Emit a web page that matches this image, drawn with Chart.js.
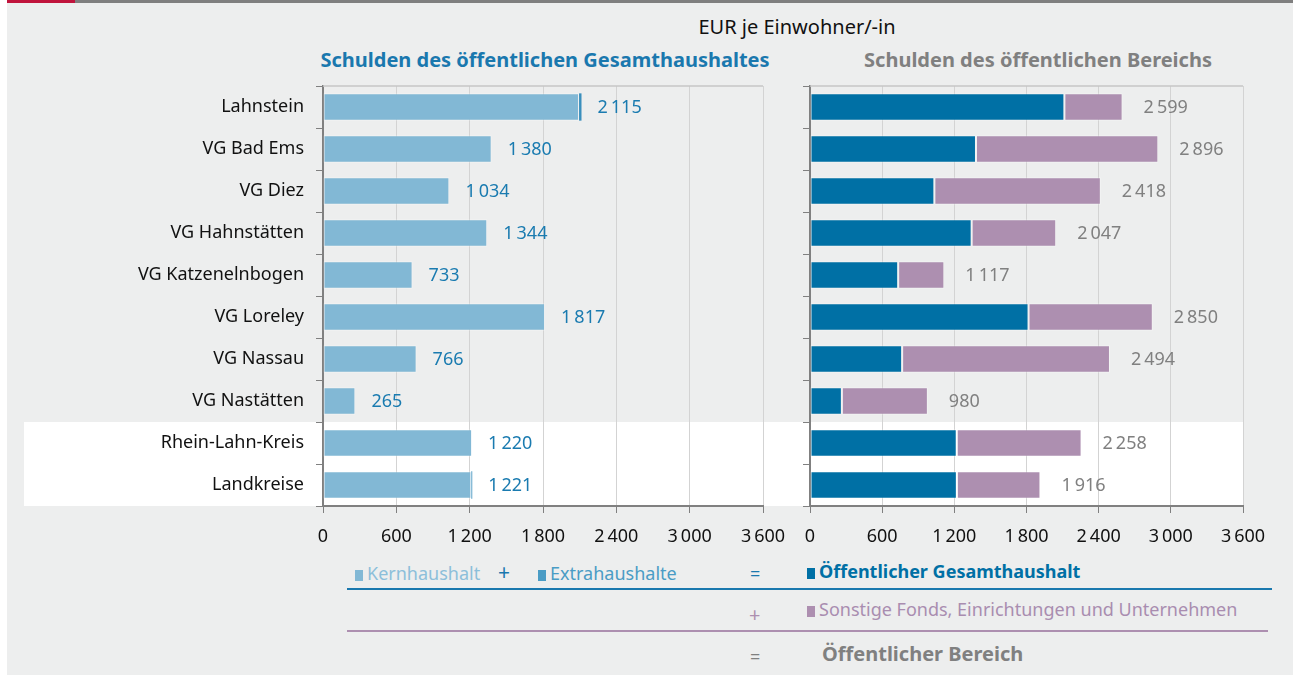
<!DOCTYPE html>
<html lang="de">
<head>
<meta charset="utf-8">
<title>Schulden je Einwohner</title>
<script src="https://cdn.jsdelivr.net/npm/chart.js@4.4.0/dist/chart.umd.min.js"></script>
<style>
  html, body { margin: 0; padding: 0; background: #fff; }
  body { width: 1293px; height: 675px; position: relative; overflow: hidden; font-family: 'Noto Sans', sans-serif; }
  #page { position: absolute; left: 7px; top: 0; right: 0; bottom: 0; background: #edeeee; }
  #topline { position: absolute; left: 7px; top: 0; right: 0; height: 3px; background: #7f7f7f; }
  #topline span { position: absolute; left: 0; top: 0; width: 68px; height: 3px; background: #c0143c; }
  canvas { position: absolute; }
  .txt { position: absolute; white-space: nowrap; line-height: 1; }
  .center { transform: translateX(-50%); }
  .sq { display: inline-block; width: 8px; height: 11px; margin-right: 4px; vertical-align: -1px; }
  .rule { position: absolute; height: 2px; }
</style>
</head>
<body>
<div id="page"></div>
<div id="topline"><span></span></div>

<div class="txt center" style="left:797px; top:17px; font-size:20px; color:#111;">EUR je Einwohner/-in</div>
<div class="txt center" style="left:545px; top:50px; font-size:20px; font-weight:bold; color:#1a78ae;">Schulden des öffentlichen Gesamthaushaltes</div>
<div class="txt center" style="left:1038px; top:50px; font-size:20px; font-weight:bold; color:#808080;">Schulden des öffentlichen Bereichs</div>

<canvas id="leftChart" width="790" height="480" style="left:0; top:76px;"></canvas>
<canvas id="rightChart" width="503" height="480" style="left:790px; top:76px;"></canvas>

<!-- legend -->
<div class="txt" style="left:355px; top:564px; font-size:18px; color:#8cbfda;"><span class="sq" style="background:#82b8d5"></span>Kernhaushalt</div>
<div class="txt" style="left:498px; top:562px; font-size:21px; color:#1a78ae;">+</div>
<div class="txt" style="left:538px; top:564px; font-size:18px; color:#4a9cc5;"><span class="sq" style="background:#4a9cc5"></span>Extrahaushalte</div>
<div class="txt" style="left:750px; top:564px; font-size:18px; color:#1a78ae;">=</div>
<div class="txt" style="left:807px; top:562px; font-size:18px; font-weight:bold; color:#0070a5;"><span class="sq" style="background:#0070a5"></span>Öffentlicher Gesamthaushalt</div>
<div class="rule" style="left:347px; top:588px; width:925px; background:#1a78ae;"></div>
<div class="txt" style="left:749px; top:605px; font-size:20px; color:#ad8fb0;">+</div>
<div class="txt" style="left:807px; top:600px; font-size:18px; color:#a98db0;"><span class="sq" style="background:#ad8fb0"></span>Sonstige Fonds, Einrichtungen und Unternehmen</div>
<div class="rule" style="left:347px; top:630px; width:921px; background:#ad8fb0;"></div>
<div class="txt" style="left:750px; top:647px; font-size:18px; color:#808080;">=</div>
<div class="txt" style="left:822px; top:644px; font-size:20px; font-weight:bold; color:#808080;">Öffentlicher Bereich</div>

<script>
// EUR je Einwohner/-in
const regionen = ['Lahnstein', 'VG Bad Ems', 'VG Diez', 'VG Hahnstätten', 'VG Katzenelnbogen',
  'VG Loreley', 'VG Nassau', 'VG Nastätten', 'Rhein-Lahn-Kreis', 'Landkreise'];
const kernhaushalt = [2095, 1380, 1034, 1344, 733, 1817, 766, 265, 1220, 1214];
const extrahaushalte = [20, 0, 0, 0, 0, 0, 0, 0, 0, 7];
const sonstigeFonds = [484, 1516, 1384, 703, 384, 1033, 1728, 715, 1038, 695];
const xTicks = [0, 600, 1200, 1800, 2400, 3000, 3600];

const gesamthaushalt = kernhaushalt.map((v, i) => v + extrahaushalte[i]);

Chart.defaults.font.family = "'Noto Sans', sans-serif";
Chart.defaults.animation = false;

// 1 200 style with thin space
function fmt(v) {
  return String(v).replace(/\B(?=(\d{3})+(?!\d))/g, '\u2009');
}

// white band behind the two district rows
const bandPlugin = {
  id: 'band',
  beforeDraw(chart, args, opts) {
    const y = chart.scales.y;
    const area = chart.chartArea;
    const top = (y.getPixelForValue(7) + y.getPixelForValue(8)) / 2;
    const x1 = opts.toChartRight ? area.right : chart.width;
    const ctx = chart.ctx;
    ctx.save();
    ctx.fillStyle = '#ffffff';
    ctx.fillRect(opts.x0, top, x1 - opts.x0, area.bottom - top);
    ctx.restore();
  }
};

// thin frame on top of the plot area
const framePlugin = {
  id: 'frame',
  beforeDatasetsDraw(chart) {
    const a = chart.chartArea;
    const ctx = chart.ctx;
    ctx.save();
    ctx.strokeStyle = '#c6c6c6';
    ctx.lineWidth = 1.5;
    ctx.beginPath();
    ctx.moveTo(a.left, a.top);
    ctx.lineTo(a.right, a.top);
    ctx.stroke();
    ctx.restore();
  }
};

// sum label right of each stacked bar
const totalsPlugin = {
  id: 'totals',
  afterDatasetsDraw(chart, args, opts) {
    const ctx = chart.ctx;
    const x = chart.scales.x;
    const y = chart.scales.y;
    ctx.save();
    ctx.font = "18px 'Noto Sans', sans-serif";
    ctx.fillStyle = opts.color;
    ctx.textAlign = 'left';
    ctx.textBaseline = 'middle';
    chart.data.labels.forEach((lab, i) => {
      const total = chart.data.datasets.reduce((s, ds) => s + ds.data[i], 0);
      ctx.fillText(fmt(total), x.getPixelForValue(total) + opts.offset, y.getPixelForValue(i) + 1);
    });
    ctx.restore();
  }
};

function scales(yWidth, showLabels) {
  return {
    x: {
      stacked: true,
      min: 0,
      max: 3600,
      afterBuildTicks: s => { s.ticks = xTicks.map(v => ({ value: v })); },
      afterFit: s => {
        s.height = 50;
        s.paddingLeft = 0;
        s.paddingRight = 0;
      },
      grid: { color: '#d3d3d3', tickColor: '#808080', tickLength: 7, lineWidth: 1 },
      border: { color: '#808080', width: 2 },
      ticks: { color: '#111', font: { size: 18 }, padding: 13, maxRotation: 0, callback: v => fmt(v) }
    },
    y: {
      stacked: true,
      afterFit: s => {
        s.width = yWidth;
        s.paddingTop = 0;
        s.paddingBottom = 0;
      },
      grid: { drawOnChartArea: false, tickColor: '#808080', tickLength: 7 },
      border: { color: '#808080', width: 2 },
      ticks: { display: showLabels, color: '#111', font: { size: 18 }, padding: 12 }
    }
  };
}

function barSet(label, data, color, border) {
  return {
    label: label,
    data: data,
    backgroundColor: color,
    borderColor: 'rgba(255,255,255,0.35)',
    borderWidth: border,
    borderSkipped: false,
    categoryPercentage: 1,
    barPercentage: 0.65
  };
}

new Chart(document.getElementById('leftChart'), {
  type: 'bar',
  data: {
    labels: regionen,
    datasets: [
      barSet('Kernhaushalt', kernhaushalt, '#82b8d5', 1),
      barSet('Extrahaushalte', extrahaushalte, '#3a8fbd', 0)
    ]
  },
  options: {
    indexAxis: 'y',
    responsive: false,
    devicePixelRatio: 1,
    layout: { padding: { top: 10, right: 27, left: 0, bottom: 0 } },
    scales: scales(323, true),
    plugins: {
      legend: { display: false },
      tooltip: { enabled: false },
      band: { x0: 24, toChartRight: false },
      totals: { color: '#1a7bb0', offset: 16 }
    }
  },
  plugins: [bandPlugin, framePlugin, totalsPlugin]
});

new Chart(document.getElementById('rightChart'), {
  type: 'bar',
  data: {
    labels: regionen,
    datasets: [
      barSet('Öffentlicher Gesamthaushalt', gesamthaushalt, '#0070a5', 1),
      barSet('Sonstige Fonds, Einrichtungen und Unternehmen', sonstigeFonds, '#ad8fb0', 1)
    ]
  },
  options: {
    indexAxis: 'y',
    responsive: false,
    devicePixelRatio: 1,
    layout: { padding: { top: 10, right: 50, left: 0, bottom: 0 } },
    scales: scales(20, false),
    plugins: {
      legend: { display: false },
      tooltip: { enabled: false },
      band: { x0: 0, toChartRight: true },
      totals: { color: '#808080', offset: 21 }
    }
  },
  plugins: [bandPlugin, framePlugin, totalsPlugin]
});
</script>
</body>
</html>
